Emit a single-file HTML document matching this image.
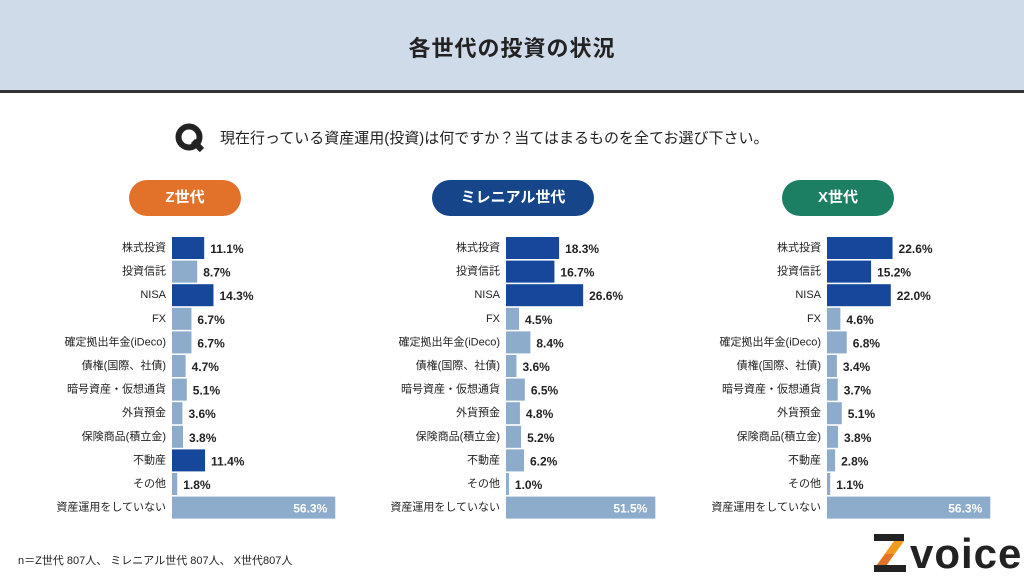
<!DOCTYPE html>
<html><head><meta charset="utf-8"><style>
body{margin:0;width:1024px;height:576px;overflow:hidden;background:#fff;font-family:"Liberation Sans","Noto Sans CJK JP",sans-serif;}
#hdr{position:absolute;left:0;top:0;width:1024px;height:90px;background:#cfdbe8;border-bottom:3px solid #333;}
#title{position:absolute;top:31px;width:1024px;text-align:center;font-size:22px;font-weight:bold;color:#222;letter-spacing:1px}
.pill{position:absolute;height:36px;border-radius:18px;color:#fff;font-weight:bold;font-size:15px;line-height:36px;text-align:center}
</style></head><body>
<div id="hdr"></div>
<div id="title">各世代の投資の状況</div>
<svg style="position:absolute;left:175px;top:122px" width="32" height="32"><circle cx="14" cy="15" r="10.5" fill="none" stroke="#222" stroke-width="6"/><path d="M18 19 L27 28" stroke="#222" stroke-width="6"/></svg>
<div style="position:absolute;left:220px;top:127px;font-size:15px;color:#222">現在行っている資産運用(投資)は何ですか？当てはまるものを全てお選び下さい。</div>
<div class="pill" style="left:129px;top:180px;width:112px;background:#e2722a">Z世代</div>
<div class="pill" style="left:432px;top:180px;width:162px;background:#16458a">ミレニアル世代</div>
<div class="pill" style="left:782px;top:180px;width:112px;background:#1c7e62">X世代</div>
<svg id="chart" style="position:absolute;left:0;top:0" width="1024" height="576"></svg>
<div style="position:absolute;left:18px;top:552px;font-size:11px;color:#222">n＝Z世代 807人、 ミレニアル世代 807人、 X世代807人</div>
<svg style="position:absolute;left:872px;top:532px" width="36" height="42"><rect x="2" y="2" width="30" height="7" fill="#222"/><polygon points="22,9 32,9 14,34 4,34" fill="#f29a1e"/><polygon points="4,34 14,34 22,22 14,22" fill="#e2722a"/><rect x="2" y="33" width="32" height="7" fill="#222"/></svg>
<div style="position:absolute;left:910px;top:530px;font-size:42px;font-weight:bold;color:#222;letter-spacing:1px">voice</div>
<script>
const categories=["株式投資","投資信託","NISA","FX","確定拠出年金(iDeco)","債権(国際、社債)","暗号資産・仮想通貨","外貨預金","保険商品(積立金)","不動産","その他","資産運用をしていない"];
const zValues=[11.1,8.7,14.3,6.7,6.7,4.7,5.1,3.6,3.8,11.4,1.8,56.3];
const mValues=[18.3,16.7,26.6,4.5,8.4,3.6,6.5,4.8,5.2,6.2,1.0,51.5];
const xValues=[22.6,15.2,22.0,4.6,6.8,3.4,3.7,5.1,3.8,2.8,1.1,56.3];
const zDark=[0,2,9], mDark=[0,1,2], xDark=[0,1,2];
const svg=document.getElementById('chart');const NS='http://www.w3.org/2000/svg';
const scale=v=>v*2.9;const rowY=i=>237+i*23.6;
function panel(x0,vals,dark,key){
 vals.forEach((v,i)=>{
  const y=rowY(i);
  const r=document.createElementNS(NS,'rect');
  r.setAttribute('x',x0);r.setAttribute('y',y);r.setAttribute('width',scale(v));r.setAttribute('height',22);
  r.setAttribute('fill',dark.includes(i)?'#17479a':'#8dabca');
  
  
  svg.appendChild(r);
  const l=document.createElementNS(NS,'text');
  l.setAttribute('x',x0-6);l.setAttribute('y',y+14);l.setAttribute('text-anchor','end');
  l.setAttribute('font-size','11');l.setAttribute('fill','#222');l.textContent=categories[i];
  
  
  svg.appendChild(l);
  const t=document.createElementNS(NS,'text');
  const last=i===vals.length-1;
  t.setAttribute('x',last?x0+scale(v)-8:x0+scale(v)+6);t.setAttribute('y',y+16);
  t.setAttribute('text-anchor',last?'end':'start');
  t.setAttribute('font-size','12');t.setAttribute('font-weight','bold');t.setAttribute('fill',last?'#fff':'#222');
  t.textContent=v.toFixed(1)+'%';
  
  
  svg.appendChild(t);
 });
}
panel(172,zValues,zDark,'z');panel(506,mValues,mDark,'m');panel(827,xValues,xDark,'x');
</script>
</body></html>
